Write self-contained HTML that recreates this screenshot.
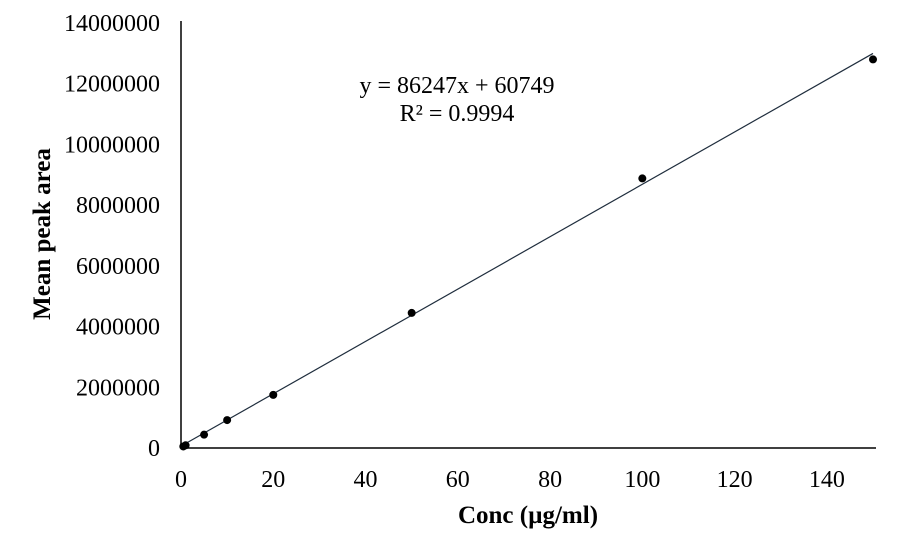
<!DOCTYPE html>
<html><head><meta charset="utf-8"><style>
body{margin:0;background:#fff;}
svg{display:block;font-family:"Liberation Serif",serif;}
</style></head><body>
<svg id="c" width="916" height="553"></svg>
<script>
const concs=[0.5,1,5,10,20,50,100,150];
const areas=[50000,90000,440000,920000,1750000,4450000,8880000,12800000];
const xTicks=[0,20,40,60,80,100,120,140];
const yTicks=[0,2000000,4000000,6000000,8000000,10000000,12000000,14000000];
const slope=86247, intercept=60749;
const NS='http://www.w3.org/2000/svg';
const svg=document.getElementById('c');
const X0=181,X1=873,Y0=448,Y1=23;
const sx=v=>X0+(v/150)*(X1-X0);
const sy=v=>Y0-(v/14000000)*(Y0-Y1);
function mk(t,a,txt){const e=document.createElementNS(NS,t);for(const k in a)e.setAttribute(k,a[k]);if(txt!==undefined)e.textContent=txt;svg.appendChild(e);return e;}
let e;
e=mk('line',{x1:X0,y1:Y0,x2:X0,y2:Y1-2,stroke:'#000','stroke-width':1.5});


e=mk('line',{x1:X0,y1:Y0,x2:X1+3,y2:Y0,stroke:'#000','stroke-width':1.5});


xTicks.forEach(t=>{e=mk('text',{x:sx(t),y:Y0+39,'text-anchor':'middle','font-size':24},t);

});
yTicks.forEach(t=>{e=mk('text',{x:X0-21,y:sy(t)+8,'text-anchor':'end','font-size':24},t);

});
e=mk('line',{x1:sx(0),y1:sy(intercept),x2:sx(150),y2:sy(slope*150+intercept),stroke:'#1f2d3d','stroke-width':1.2});


concs.forEach((c,i)=>{e=mk('circle',{cx:sx(c),cy:sy(areas[i]),r:4,fill:'#000'});

});
e=mk('text',{x:457,y:93,'text-anchor':'middle','font-size':24},'y = 86247x + 60749');


e=mk('text',{x:457,y:121,'text-anchor':'middle','font-size':24},'R² = 0.9994');


e=mk('text',{x:528,y:523,'text-anchor':'middle','font-size':25,'font-weight':'bold'},'Conc (µg/ml)');


e=mk('text',{x:0,y:0,'text-anchor':'middle','font-size':25,'font-weight':'bold',transform:'translate(50,234) rotate(-90)'},'Mean peak area');


</script>
</body></html>
